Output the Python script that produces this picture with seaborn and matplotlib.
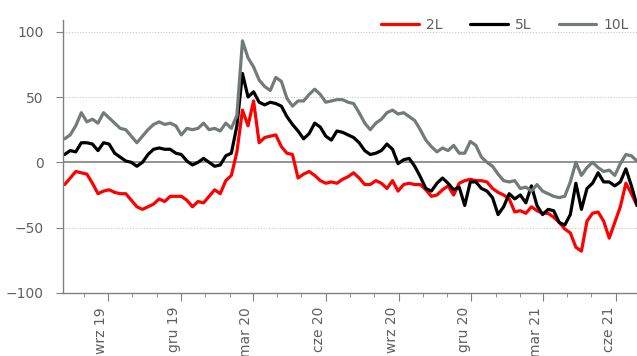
import pandas as pd
import matplotlib.pyplot as plt
import matplotlib.dates as mdates
import seaborn as sns

# weekly observations, Jul 2019 - Jun 2021
dates = pd.date_range("2019-07-08", periods=104, freq="7D")

y2 = [-17, -12, -7, -8, -9, -16, -24, -22, -21, -23, -24, -24, -29, -34, -36, -34,
      -32, -28, -30, -26, -26, -26, -29, -34, -30, -31, -26, -21, -24, -14, -10, 8,
      40, 28, 47, 15, 19, 20, 21, 12, 7, 6, -12, -9, -7, -10, -14, -16, -15, -16,
      -13, -11, -8, -12, -17, -17, -14, -16, -20, -14, -22, -17, -16, -17, -17, -21,
      -26, -25, -21, -18, -25, -16, -14, -13, -14, -14, -15, -20, -23, -25, -28, -38,
      -37, -39, -34, -37, -39, -39, -42, -46, -51, -54, -65, -68, -45, -39, -38, -45,
      -58, -46, -34, -16, -24, -33]
y5 = [6, 9, 8, 15, 15, 14, 9, 15, 14, 7, 4, 1, 0, -3, 0, 6,
      10, 11, 10, 10, 7, 6, 1, -2, 0, 3, 0, -3, -2, 5, 7, 28,
      68, 50, 54, 46, 44, 46, 45, 43, 35, 29, 24, 18, 22, 30, 27, 20,
      17, 24, 23, 21, 19, 15, 9, 6, 7, 9, 14, 10, -1, 2, 3, -3,
      -11, -20, -22, -16, -12, -16, -21, -19, -33, -15, -15, -20, -22, -27, -40, -34,
      -24, -28, -25, -31, -18, -33, -40, -36, -37, -46, -48, -40, -16, -36, -20, -16,
      -8, -15, -15, -18, -15, -5, -18, -33]
y10 = [18, 21, 28, 38, 31, 33, 30, 38, 34, 30, 26, 25, 20, 15, 20, 25,
       29, 31, 29, 30, 28, 21, 26, 25, 26, 30, 25, 26, 24, 30, 26, 36,
       93, 80, 73, 63, 58, 55, 65, 62, 49, 43, 47, 47, 52, 56, 52, 46,
       47, 48, 48, 46, 45, 38, 30, 25, 30, 33, 38, 40, 37, 38, 35, 32,
       25, 17, 12, 8, 11, 9, 13, 7, 7, 16, 13, 4, 0, -3, -9, -14,
       -15, -14, -20, -19, -22, -17, -22, -24, -26, -27, -26, -15, 0, -10, -4, 0,
       -4, -7, -6, -10, -1, 6, 5, 1]

series = ["2L", "5L", "10L"]
colors = ["#ff0000", "#000000", "#737a7a"]
tick_dates = ["2019-09-01", "2019-12-01", "2020-03-01", "2020-06-01",
              "2020-09-01", "2020-12-01", "2021-03-01", "2021-06-01"]
tick_labels = ["wrz 19", "gru 19", "mar 20", "cze 20", "wrz 20", "gru 20", "mar 21", "cze 21"]

df = pd.DataFrame({"date": list(dates) * 3,
                   "value": y2 + y5 + y10,
                   "series": [s for s in series for _ in dates]})

sns.set_style("white")
plt.rcParams["font.family"] = ["DejaVu Sans"]
txt = "#5f5f5f"

fig = plt.figure(figsize=(6.37, 3.56), dpi=100)
ax = fig.add_axes([0.099, 0.177, 0.901, 0.767])

ax.axhline(0, color="#808080", lw=1.2, zorder=1)
for v in [100, 50, -50]:
    ax.axhline(v, color="#c8c8c8", lw=0.8, ls=(0, (1, 1.5)), zorder=0)

sns.lineplot(data=df, x="date", y="value", hue="series", hue_order=series,
             palette=colors, lw=2.3, ax=ax, legend=False)

ax.set_ylim(-100, 109)
ax.set_yticks([100, 50, 0, -50, -100])
ax.set_xlim(pd.Timestamp("2019-07-06"), pd.Timestamp("2021-06-28"))
ax.set_xticks(pd.to_datetime(tick_dates))
ax.set_xticklabels(tick_labels, rotation=90, ha="right", va="top")
ax.xaxis.set_minor_locator(mdates.MonthLocator())
ax.set_xlabel("")
ax.set_ylabel("")

for s in ["top", "right"]:
    ax.spines[s].set_visible(False)
for s in ["left", "bottom"]:
    ax.spines[s].set_color("#808080")
    ax.spines[s].set_linewidth(1.0)

ax.tick_params(axis="y", which="major", direction="out", length=5, color="#808080",
               labelsize=10, labelcolor=txt, pad=9, left=True)
ax.tick_params(axis="x", which="major", direction="out", length=6, color="#808080",
               labelsize=10, labelcolor=txt, pad=4, bottom=True)
ax.tick_params(axis="x", which="minor", direction="out", length=3, color="#808080", bottom=True)

handles = [plt.Line2D([], [], color=c, lw=2.3) for c in colors]
fig.legend(handles, series, loc="center right", bbox_to_anchor=(1.0, 1 - 25 / 356),
           ncol=3, frameon=False, fontsize=10, labelcolor=txt,
           handlelength=2.7, columnspacing=2.0, handletextpad=0.5, borderaxespad=0.2)

fig.savefig("out.png", dpi=100)
